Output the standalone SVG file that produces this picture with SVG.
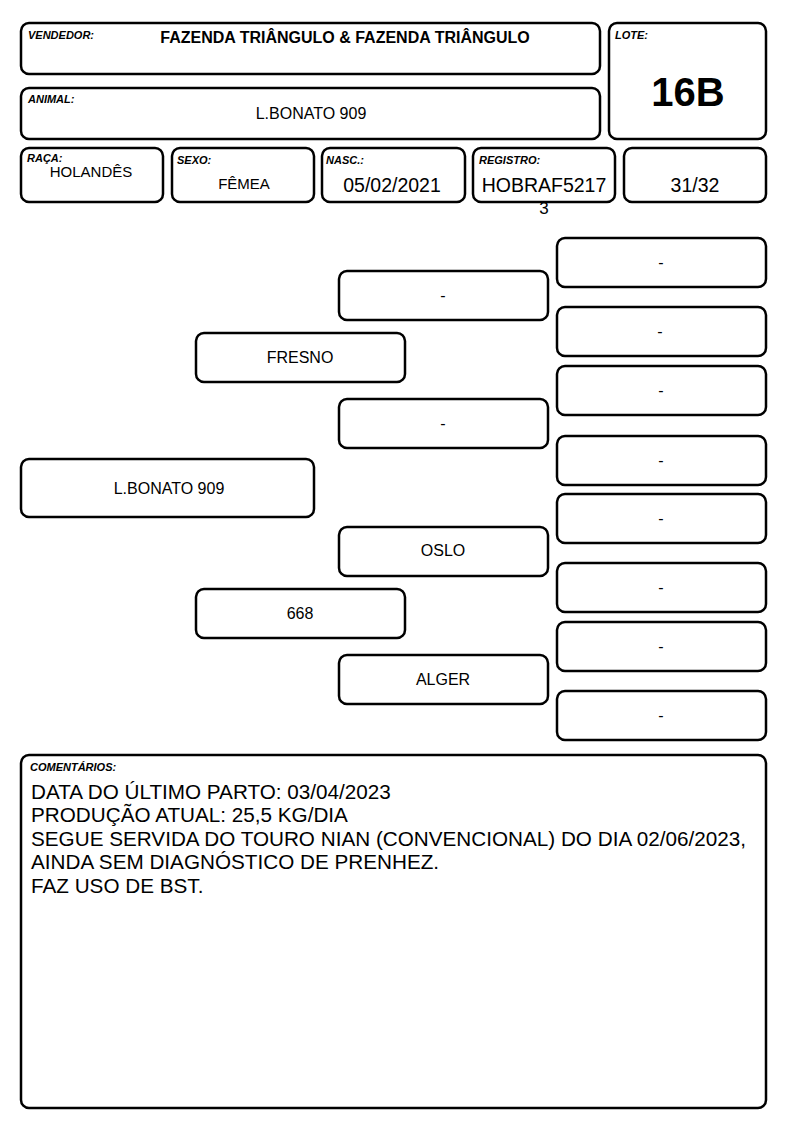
<svg xmlns="http://www.w3.org/2000/svg" width="794" height="1123" viewBox="0 0 794 1123">
<style>
.b{fill:#fff;stroke:#000;stroke-width:2.5}
.l{font-family:"Liberation Sans",Arial,sans-serif;font-size:11px;font-weight:bold;font-style:italic}
.t{font-family:"Liberation Sans",Arial,sans-serif;font-size:15px;text-anchor:middle}
.p{font-family:"Liberation Sans",Arial,sans-serif;font-size:16px;text-anchor:middle}
.m{font-family:"Liberation Sans",Arial,sans-serif;font-size:19.5px;text-anchor:middle}
.c{font-family:"Liberation Sans",Arial,sans-serif;font-size:20.7px}
</style>
<rect width="794" height="1123" fill="#fff"/>
<g id="vendedor"><rect class="b" x="21" y="23" width="579" height="51" rx="8"/><text class="l" x="28" y="39">VENDEDOR:</text><text class="p" x="345" y="43" font-weight="bold">FAZENDA TRIÂNGULO &amp; FAZENDA TRIÂNGULO</text></g>
<g id="animal"><rect class="b" x="21" y="88" width="579" height="51" rx="8"/><text class="l" x="28" y="103">ANIMAL:</text><text class="p" x="311" y="119">L.BONATO 909</text></g>
<g id="lote"><rect class="b" x="609" y="23" width="157" height="116" rx="8"/><text class="l" x="615" y="39">LOTE:</text><text x="688" y="106" font-family="Liberation Sans,Arial,sans-serif" font-size="40" font-weight="bold" text-anchor="middle">16B</text></g>
<g id="raca"><rect class="b" x="21" y="148" width="142" height="54" rx="8"/><text class="l" x="27" y="162">RAÇA:</text><text class="t" x="91" y="177">HOLANDÊS</text></g>
<g id="sexo"><rect class="b" x="172" y="148" width="142" height="54" rx="8"/><text class="l" x="177" y="164">SEXO:</text><text class="t" x="244" y="189">FÊMEA</text></g>
<g id="nasc"><rect class="b" x="322" y="148" width="143" height="54" rx="8"/><text class="l" x="326" y="164">NASC.:</text><text class="m" x="392" y="192">05/02/2021</text></g>
<g id="registro"><rect class="b" x="473" y="148" width="142" height="54" rx="8"/><text class="l" x="479" y="164">REGISTRO:</text><text class="m" x="544" y="192">HOBRAF5217</text><text class="m" x="544" y="214" style="font-size:17px">3</text></g>
<g id="grau"><rect class="b" x="624" y="148" width="142" height="54" rx="8"/><text class="m" x="695" y="192">31/32</text></g>
<g id="p0"><rect class="b" x="21" y="459" width="293" height="58" rx="8"/><text class="p" x="169" y="494">L.BONATO 909</text></g>
<g id="p1"><rect class="b" x="196" y="333" width="209" height="49" rx="8"/><text class="p" x="300" y="363">FRESNO</text></g>
<g id="p2"><rect class="b" x="196" y="589" width="209" height="49" rx="8"/><text class="p" x="300" y="619">668</text></g>
<g id="p3"><rect class="b" x="339" y="271" width="209" height="49" rx="8"/><text class="p" x="443" y="301">-</text></g>
<g id="p4"><rect class="b" x="339" y="399" width="209" height="49" rx="8"/><text class="p" x="443" y="429">-</text></g>
<g id="p5"><rect class="b" x="339" y="527" width="209" height="49" rx="8"/><text class="p" x="443" y="556">OSLO</text></g>
<g id="p6"><rect class="b" x="339" y="655" width="209" height="49" rx="8"/><text class="p" x="443" y="685">ALGER</text></g>
<g id="p7"><rect class="b" x="557" y="238" width="209" height="49" rx="8"/><text class="p" x="661" y="268">-</text></g>
<g id="p8"><rect class="b" x="557" y="307" width="209" height="49" rx="8"/><text class="p" x="660" y="337">-</text></g>
<g id="p9"><rect class="b" x="557" y="366" width="209" height="49" rx="8"/><text class="p" x="661" y="396">-</text></g>
<g id="p10"><rect class="b" x="557" y="436" width="209" height="49" rx="8"/><text class="p" x="661" y="466">-</text></g>
<g id="p11"><rect class="b" x="557" y="494" width="209" height="49" rx="8"/><text class="p" x="661" y="524">-</text></g>
<g id="p12"><rect class="b" x="557" y="563" width="209" height="49" rx="8"/><text class="p" x="661" y="593">-</text></g>
<g id="p13"><rect class="b" x="557" y="622" width="209" height="49" rx="8"/><text class="p" x="661" y="652">-</text></g>
<g id="p14"><rect class="b" x="557" y="691" width="209" height="49" rx="8"/><text class="p" x="661" y="721">-</text></g>
<g id="connectors"></g>
<g id="comentarios"><rect class="b" x="21" y="755" width="745" height="353" rx="8"/><text class="l" x="30" y="771">COMENTÁRIOS:</text>
<text class="c" x="31" y="799">DATA DO ÚLTIMO PARTO: 03/04/2023</text>
<text class="c" x="31" y="822">PRODUÇÃO ATUAL: 25,5 KG/DIA</text>
<text class="c" x="31" y="846">SEGUE SERVIDA DO TOURO NIAN (CONVENCIONAL) DO DIA 02/06/2023,</text>
<text class="c" x="31" y="869">AINDA SEM DIAGNÓSTICO DE PRENHEZ.</text>
<text class="c" x="31" y="893">FAZ USO DE BST.</text></g>
</svg>
